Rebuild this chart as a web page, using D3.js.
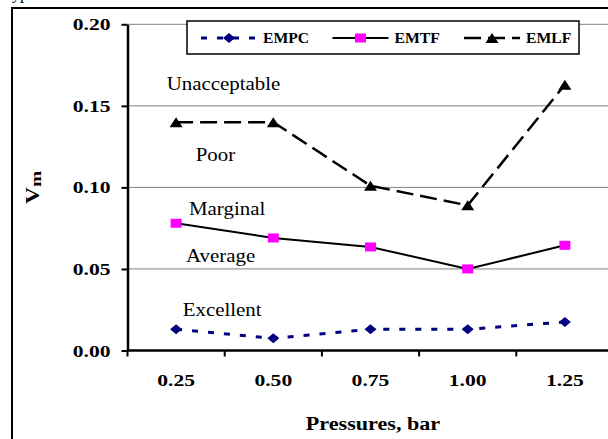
<!DOCTYPE html>
<html>
<head>
<meta charset="utf-8">
<script src="https://cdn.jsdelivr.net/npm/d3@7"></script>
<style>
  body { margin: 0; background: #fff; }
  svg { display: block; }
  text { font-family: "Liberation Serif", "Times New Roman", serif; fill: #000; }
  .bold { font-weight: bold; }
</style>
</head>
<body>
<svg id="chart" width="608" height="439"></svg>
<script>
// data
const categories = ["0.25", "0.50", "0.75", "1.00", "1.25"];
const empc = [0.013, 0.0075, 0.013, 0.013, 0.0175];
const emtf = [0.078, 0.069, 0.0635, 0.050, 0.0645];
const emlf = [0.140, 0.140, 0.101, 0.089, 0.163];
const yTicks = [0, 0.05, 0.10, 0.15, 0.20];
const seriesNames = ["EMPC", "EMTF", "EMLF"];
const zoneLabels = ["Unacceptable", "Poor", "Marginal", "Average", "Excellent"];
const zoneLevels = [0.160, 0.116, 0.083, 0.054, 0.021];

const svg = d3.select("#chart");

let x = d3.scaleBand().domain(categories).range([127.5, 613.5]),
    y = d3.scaleLinear().domain([0, 0.2]).range([350.5, 24.3]),
    cx = c => x(c) + x.bandwidth() / 2;

// outer frame (cut off at right/bottom)
svg.append("path")
    .attr("d", "M12,439V8H608")
    .attr("fill", "none").attr("stroke", "#000").attr("stroke-width", 2);
svg.append("text").attr("x", 12).attr("y", -1).style("font-size", "16px").text("yp");

// gridlines
svg.append("g").selectAll("line")
    .data(yTicks.filter(d => d > 0))
    .enter().append("line")
    .attr("x1", x.range()[0]).attr("x2", 608)
    .attr("y1", d => y(d)).attr("y2", d => y(d))
    .attr("stroke", "#808080").attr("stroke-width", 1);

// y axis
let yAxis = svg.append("g")
    .attr("transform", `translate(${x.range()[0]},0)`)
    .call(d3.axisLeft(y).tickValues(yTicks).tickFormat(d3.format(".2f")).tickSize(6).tickSizeOuter(0));
yAxis.select(".domain").attr("stroke", "#000").attr("stroke-width", 2.5);
yAxis.selectAll(".tick line").attr("stroke", "#000").attr("stroke-width", 2);
yAxis.selectAll(".tick text")
    .attr("class", "bold").attr("x", 0).attr("dy", null)
    .attr("transform", "translate(-17,5.5) scale(1.35,1)")
    .style("font-size", "16px").style("font-family", null);

// x axis
let xAxis = svg.append("g")
    .attr("transform", `translate(0,${y(0)})`)
    .call(d3.axisBottom(x).tickSize(0).tickSizeOuter(0));
xAxis.select(".domain").attr("d", `M${x.range()[0]},0H608`)
    .attr("stroke", "#000").attr("stroke-width", 2.5);
xAxis.selectAll(".tick text")
    .attr("class", "bold").attr("y", 0).attr("dy", null)
    .attr("transform", "translate(0,35) scale(1.35,1)")
    .style("font-size", "16px").style("font-family", null);
xAxis.selectAll(".bound")
    .data(d3.range(categories.length + 1))
    .enter().append("line")
    .attr("x1", i => x.range()[0] + i * x.step())
    .attr("x2", i => x.range()[0] + i * x.step())
    .attr("y1", 0).attr("y2", 6)
    .attr("stroke", "#000").attr("stroke-width", 2);

// axis titles
svg.append("text").attr("class", "bold")
    .attr("text-anchor", "middle")
    .attr("transform", "translate(373,430) scale(1.23,1)")
    .style("font-size", "18px")
    .text("Pressures, bar");
let yt = svg.append("text").attr("class", "bold")
    .attr("transform", "translate(39,204) rotate(-90) scale(1.3,1)")
    .style("font-size", "18px");
yt.append("tspan").text("V");
yt.append("tspan").attr("dy", 2).style("font-size", "15px").text("m");

// zone labels
const zoneX = [166.7, 195.7, 189, 186, 182.7];
svg.append("g").selectAll("text")
    .data(zoneLabels)
    .enter().append("text")
    .attr("transform", (d, i) => `translate(${zoneX[i]},${y(zoneLevels[i])}) scale(1.1,1)`)
    .style("font-size", "19px")
    .text(d => d);

// marker shapes
function diamond(w, h) { return `M0,${-h}L${w},0L0,${h}L${-w},0Z`; }
function square(w, h) { return `M${-w},${-h}H${w}V${h}H${-w}Z`; }
function triangle(w, h) { return `M0,${-h}L${w},${h}H${-w}Z`; }

const styles = {
    EMPC: { values: empc, stroke: "#000080", width: 3, dash: "6,10", fill: "#000080", shape: diamond(6, 5) },
    EMTF: { values: emtf, stroke: "#000", width: 2, dash: null, fill: "#FF00FF", shape: square(5.5, 4.5) },
    EMLF: { values: emlf, stroke: "#000", width: 2.5, dash: "17,7", fill: "#000", shape: triangle(6.5, 5) }
};

let line = d3.line()
    .x((d, i) => cx(categories[i]))
    .y(d => y(d));

seriesNames.forEach(name => {
    let s = styles[name];
    let g = svg.append("g");
    g.append("path")
        .attr("d", line(s.values))
        .attr("fill", "none")
        .attr("stroke", s.stroke)
        .attr("stroke-width", s.width)
        .attr("stroke-dasharray", s.dash);
    g.selectAll(".pt")
        .data(s.values)
        .enter().append("path")
        .attr("d", s.shape)
        .attr("transform", (d, i) => `translate(${cx(categories[i])},${y(d)})`)
        .attr("fill", s.fill);
});

// legend
let legend = svg.append("g");
legend.append("rect")
    .attr("x", 187).attr("y", 21).attr("width", 392).attr("height", 33)
    .attr("fill", "#fff").attr("stroke", "#000").attr("stroke-width", 1.5);
let items = legend.selectAll(".item")
    .data(seriesNames)
    .enter().append("g")
    .attr("transform", (d, i) => `translate(${201 + i * 131.5},38)`);
items.append("line")
    .attr("x1", 0).attr("x2", 56).attr("y1", 0).attr("y2", 0)
    .attr("stroke", d => styles[d].stroke)
    .attr("stroke-width", d => styles[d].width)
    .attr("stroke-dasharray", d => styles[d].dash);
items.append("path")
    .attr("d", d => styles[d].shape)
    .attr("transform", "translate(28,0)")
    .attr("fill", d => styles[d].fill);
items.append("text").attr("class", "bold")
    .attr("transform", "translate(62,5) scale(1.12,1)")
    .style("font-size", "14px")
    .text(d => d);
</script>
</body>
</html>
